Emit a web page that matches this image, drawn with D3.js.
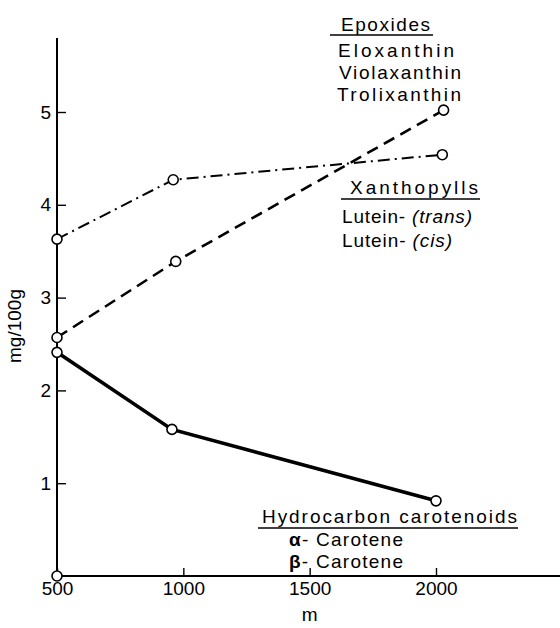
<!DOCTYPE html>
<html>
<head>
<meta charset="utf-8">
<script src="https://cdn.jsdelivr.net/npm/d3@7"></script>
<style>
  html, body { margin: 0; padding: 0; background: #fff; }
  svg { display: block; font-family: "Liberation Sans", Arial, sans-serif; }
</style>
</head>
<body>
<div id="chart"></div>
<script>
// altitude (m) / carotenoid content (mg/100g)
const epoxAlt = [500, 970, 2030];
const epoxVal = [2.57, 3.39, 5.02];
const xanthAlt = [500, 960, 2025];
const xanthVal = [3.63, 4.27, 4.54];
const hydroAlt = [500, 955, 2000];
const hydroVal = [2.41, 1.58, 0.81];

const xTicks = [500, 1000, 1500, 2000];
const yTicks = [1, 2, 3, 4, 5];

const W = 560, H = 628;
const FS = 19;
const svg = d3.select('#chart').append('svg')
  .attr('width', W).attr('height', H);

const x = d3.scaleLinear().domain([500, 2000]).range([57, 436]);
const y = d3.scaleLinear().domain([0, 5]).range([576, 112]);

// axes
const xAxis = svg.append('g')
  .attr('transform', `translate(0,${y(0)})`)
  .call(d3.axisBottom(x).tickValues(xTicks).tickSize(-8).tickPadding(6).tickFormat(d3.format('d')));
xAxis.select('.domain').remove();
xAxis.append('line')
  .attr('x1', x(500)).attr('x2', W).attr('y1', 0).attr('y2', 0)
  .attr('stroke', '#000').attr('stroke-width', 2);

const yAxis = svg.append('g')
  .attr('transform', `translate(${x(500)},0)`)
  .call(d3.axisLeft(y).tickValues(yTicks).tickSize(-9).tickPadding(6).tickFormat(d3.format('d')));
yAxis.select('.domain').remove();
yAxis.append('line')
  .attr('x1', 0).attr('x2', 0).attr('y1', y(0)).attr('y2', 38)
  .attr('stroke', '#000').attr('stroke-width', 2);

svg.selectAll('g').attr('font-size', FS).attr('font-family', '"Liberation Sans", Arial, sans-serif');
svg.selectAll('.tick line').attr('stroke', '#000').attr('stroke-width', 1.4);
svg.selectAll('.tick text').attr('fill', '#000');

// axis titles
svg.append('text')
  .attr('transform', `translate(21,326) rotate(-90)`)
  .attr('text-anchor', 'middle')
  .attr('font-size', FS)
  .text('mg/100g');
svg.append('text')
  .attr('x', x(1500)).attr('y', 621)
  .attr('text-anchor', 'middle')
  .attr('font-size', FS)
  .text('m');

// series
const series = [
  { alt: epoxAlt, val: epoxVal, width: 2.6, dash: '12,7' },
  { alt: xanthAlt, val: xanthVal, width: 2, dash: '12,5,2,5' },
  { alt: hydroAlt, val: hydroVal, width: 3.6, dash: null }
];

const line = d3.line().x(d => x(d[0])).y(d => y(d[1]));

series.forEach(s => {
  const pts = s.alt.map((a, i) => [a, s.val[i]]);
  svg.append('path')
    .datum(pts)
    .attr('d', line)
    .attr('fill', 'none')
    .attr('stroke', '#000')
    .attr('stroke-width', s.width)
    .attr('stroke-dasharray', s.dash);
  svg.selectAll(null)
    .data(pts)
    .enter().append('circle')
    .attr('cx', d => x(d[0]))
    .attr('cy', d => y(d[1]))
    .attr('r', 5)
    .attr('fill', '#fff')
    .attr('stroke', '#000')
    .attr('stroke-width', 1.6);
});

// circle at the origin
svg.append('circle')
  .attr('cx', x(500)).attr('cy', y(0)).attr('r', 5)
  .attr('fill', '#fff').attr('stroke', '#000').attr('stroke-width', 1.6);

// group labels
function label(tx, ty, str, len, opts = {}) {
  const t = svg.append('text')
    .attr('x', tx).attr('y', ty)
    .attr('font-size', FS)
    .attr('textLength', len)
    .attr('lengthAdjust', 'spacing');
  if (opts.parts) {
    opts.parts.forEach(p => {
      const ts = t.append('tspan').text(p.t);
      if (p.italic) ts.attr('font-style', 'italic');
      if (p.bold) ts.attr('font-weight', 'bold');
    });
  } else {
    t.text(str);
  }
  return t;
}
function underline(x1, x2, uy) {
  svg.append('line')
    .attr('x1', x1).attr('x2', x2).attr('y1', uy).attr('y2', uy)
    .attr('stroke', '#000').attr('stroke-width', 1.4);
}

label(341, 31, 'Epoxides', 89);
underline(330, 433, 35);
label(338, 57, 'Eloxanthin', 116);
label(339, 79, 'Violaxanthin', 122);
label(337, 101, 'Trolixanthin', 124);

label(350, 194, 'Xanthopylls', 128);
underline(341, 480, 199);
label(342, 223, null, 130, { parts: [{ t: 'Lutein- ' }, { t: '(trans)', italic: true }] });
label(342, 247, null, 110, { parts: [{ t: 'Lutein- ' }, { t: '(cis)', italic: true }] });

label(262, 523, 'Hydrocarbon carotenoids', 255);
underline(258, 518, 528);
label(289, 546, null, 114, { parts: [{ t: 'α', bold: true }, { t: '- Carotene' }] });
label(289, 568, null, 114, { parts: [{ t: 'β', bold: true }, { t: '- Carotene' }] });
</script>
</body>
</html>
